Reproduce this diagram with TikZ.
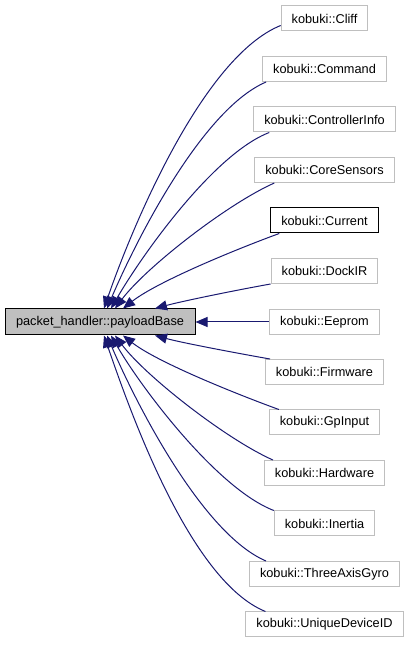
\documentclass[tikz,border=0pt]{standalone}
\usepackage{fontspec}
\setmainfont{Liberation Sans}
\usetikzlibrary{arrows.meta}
\definecolor{edgeblue}{HTML}{191970}
\definecolor{lgray}{HTML}{BFBFBF}
\begin{document}
\begin{tikzpicture}[x=1pt,y=1pt,
 cls/.style={draw=lgray, line width=1pt, fill=white, minimum height=25pt, inner xsep=10.5pt, inner ysep=0pt, font=\fontsize{12.75}{14}\selectfont, text=black},
 basecls/.style={cls, draw=black, fill=lgray, minimum width=190pt, minimum height=26pt},
 cur/.style={cls, draw=black},
 edge/.style={draw=edgeblue, line width=1pt, looseness=0.65, -{Triangle[length=12pt,width=10pt]}}]
\useasboundingbox (0,0) rectangle (409,645);
\node[basecls] (base) at (100,323) {packet\_handler::payloadBase};
\node[cls] (cliff) at (324.5,626.5) {kobuki::Cliff};
\node[cls] (command) at (324.5,576) {kobuki::Command};
\node[cls] (ctrl) at (324.5,525.5) {kobuki::ControllerInfo};
\node[cls] (core) at (324.5,475) {kobuki::CoreSensors};
\node[cur] (current) at (324.5,424.5) {kobuki::Current};
\node[cls] (dockir) at (324.5,374) {kobuki::DockIR};
\node[cls] (eeprom) at (324.5,323) {kobuki::Eeprom};
\node[cls] (firmware) at (324.5,273) {kobuki::Firmware};
\node[cls] (gpinput) at (324.5,222.5) {kobuki::GpInput};
\node[cls] (hardware) at (324.5,172) {kobuki::Hardware};
\node[cls] (inertia) at (324.5,121.5) {kobuki::Inertia};
\node[cls] (gyro) at (324.5,71) {kobuki::ThreeAxisGyro};
\node[cls] (unique) at (324.5,20.5) {kobuki::UniqueDeviceID};
\draw[edge] ([yshift=6pt]cliff.south west) to[out=202,in=71] ([xshift=4pt]base.north);
\draw[edge] ([xshift=4pt]command.south west) to[out=203,in=67] ([xshift=7pt]base.north);
\draw[edge] ([xshift=16pt]ctrl.south west) to[out=201,in=60] ([xshift=11pt]base.north);
\draw[edge] ([xshift=20pt]core.south west) to[out=204,in=53] ([xshift=15pt]base.north);
\draw[edge] ([xshift=9pt]current.south west) to[out=200,in=38] ([xshift=23pt]base.north);
\draw[edge] (dockir.south west) to[out=190,in=15] ([xshift=55pt]base.north);
\draw[edge] (eeprom.west) -- (base.east);
\draw[edge] ([xshift=5pt]firmware.north west) to[out=170,in=-15] ([xshift=55pt]base.south);
\draw[edge] ([xshift=10pt]gpinput.north west) to[out=160,in=-38] ([xshift=23pt]base.south);
\draw[edge] ([xshift=9pt]hardware.north west) to[out=156,in=-53] ([xshift=15pt]base.south);
\draw[edge] (inertia.north west) to[out=159,in=-60] ([xshift=11pt]base.south);
\draw[edge] ([xshift=17pt]gyro.north west) to[out=157,in=-67] ([xshift=7pt]base.south);
\draw[edge] ([xshift=20pt]unique.north west) to[out=158,in=-71] ([xshift=4pt]base.south);
\end{tikzpicture}
\end{document}
